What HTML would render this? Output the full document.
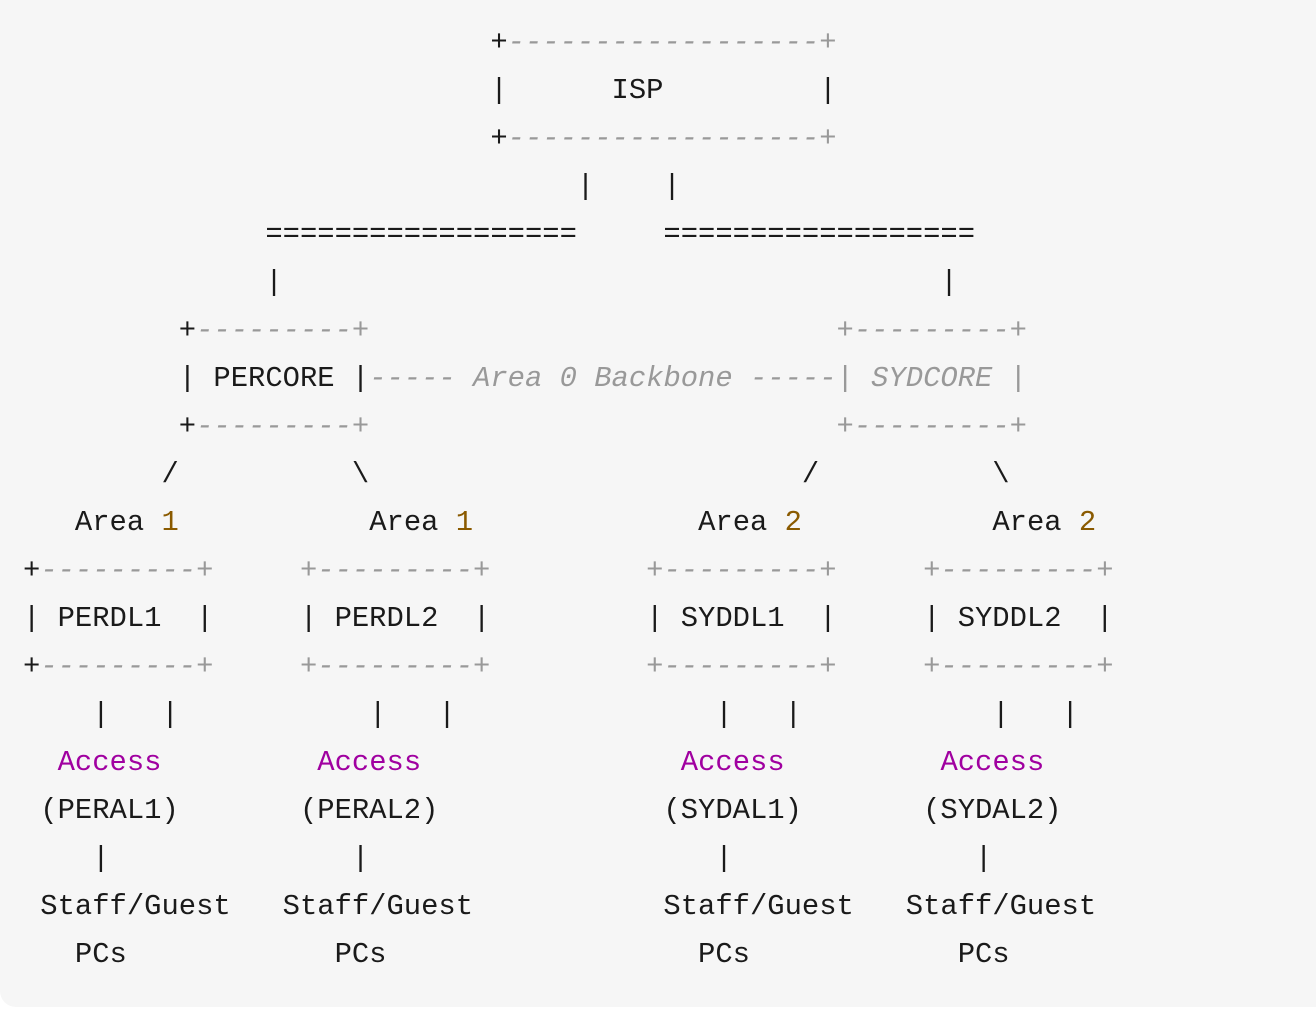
<!DOCTYPE html>
<html><head><meta charset="utf-8"><style>
html,body{margin:0;padding:0;background:#fff;width:1316px;height:1020px;overflow:hidden}
.bg{position:absolute;left:0;top:-20px;width:1316px;height:1027px;background:#f6f6f6;border-bottom-left-radius:16px}
pre{position:absolute;left:23px;top:19px;margin:0;font-family:"Liberation Mono",monospace;font-size:28.85px;line-height:48px;color:#1a1a1a;white-space:pre}
.c{color:#999;font-style:italic}
.d{color:#8a5a00}
.a{color:#a000a0}
</style></head><body><div class="bg"></div>
<pre>                           +<span class="c">------------------+</span>
                           |      ISP         |
                           +<span class="c">------------------+</span>
                                |    |
              ==================     ==================
              |                                      |
         +<span class="c">---------+</span>                           <span class="c">+---------+</span>
         | PERCORE |<span class="c">----- Area 0 Backbone -----| SYDCORE |</span>
         +<span class="c">---------+</span>                           <span class="c">+---------+</span>
        /          \                         /          \
   Area <span class="d">1</span>           Area <span class="d">1</span>             Area <span class="d">2</span>           Area <span class="d">2</span>
+<span class="c">---------+</span>     <span class="c">+---------+</span>         <span class="c">+---------+</span>     <span class="c">+---------+</span>
| PERDL1  |     | PERDL2  |         | SYDDL1  |     | SYDDL2  |
+<span class="c">---------+</span>     <span class="c">+---------+</span>         <span class="c">+---------+</span>     <span class="c">+---------+</span>
    |   |           |   |               |   |           |   |
  <span class="a">Access</span>         <span class="a">Access</span>               <span class="a">Access</span>         <span class="a">Access</span>
 (PERAL1)       (PERAL2)             (SYDAL1)       (SYDAL2)
    |              |                    |              |
 Staff/Guest   Staff/Guest           Staff/Guest   Staff/Guest
   PCs            PCs                  PCs            PCs</pre>
</body></html>
